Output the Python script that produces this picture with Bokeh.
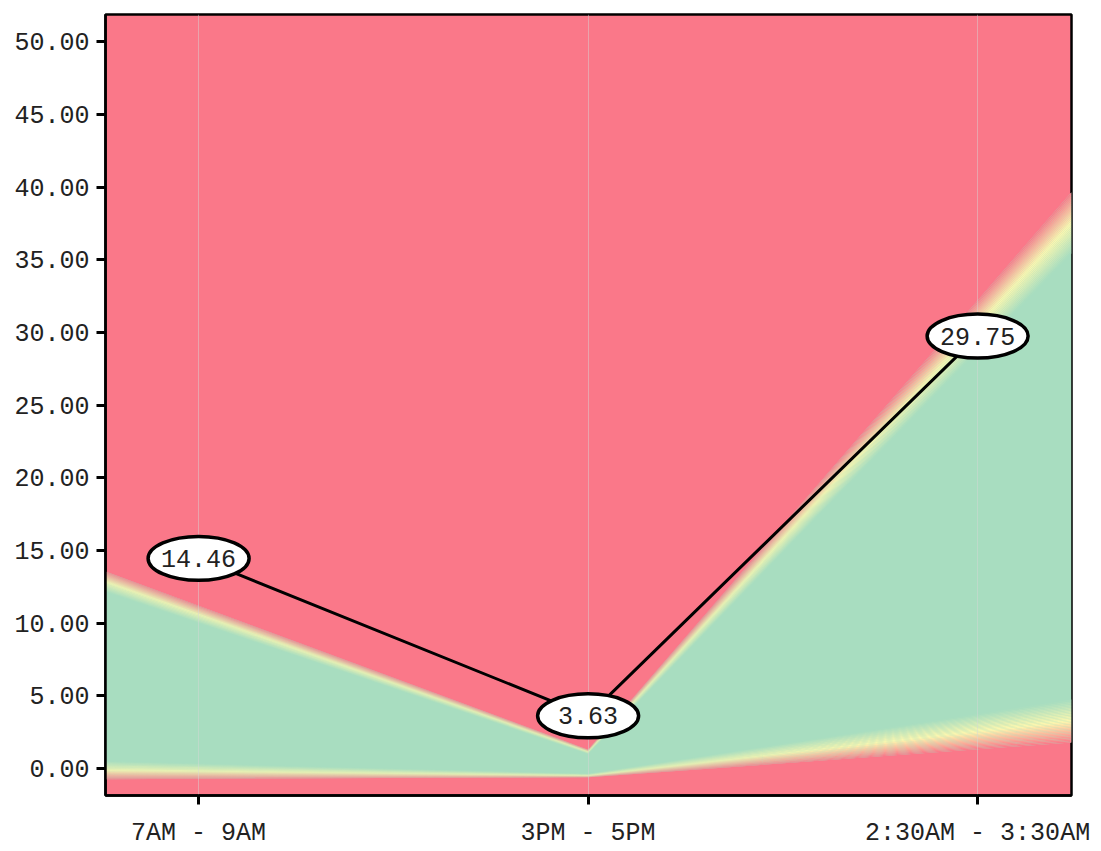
import numpy as np
from bokeh.plotting import figure
from bokeh.models import Range1d, FixedTicker, NumeralTickFormatter, ColumnDataSource
from bokeh.core.properties import value
from bokeh.embed import file_html
from bokeh.resources import INLINE

# ---------------- data ----------------
categories = ["7AM - 9AM", "3PM - 5PM", "2:30AM - 3:30AM"]
values = [14.46, 3.63, 29.75]
value_labels = ["14.46", "3.63", "29.75"]
upper_bound = [11.2, 1.3, 32.2]
upper_fade = [1.2, 0.3, 3.45]
lower_bound = [-0.7, -0.6, 1.33]
lower_fade = [1.05, 0.25, 2.43]
y_ticks = [0, 5, 10, 15, 20, 25, 30, 35, 40, 45, 50]

# ---------------- style ----------------
RED = (250, 120, 137)
YELLOW = (252, 247, 175)
GREEN = (168, 221, 192)
FONT = "Liberation Mono"
X_MIN, X_MAX = -0.239, 2.241
Y_MIN, Y_MAX = -1.85, 51.87

idx = np.arange(len(categories), dtype=float)


def extend(vals):
    v = np.asarray(vals, dtype=float)
    left = v[0] + (v[1] - v[0]) * (X_MIN - idx[0]) / (idx[1] - idx[0])
    right = v[-1] + (v[-1] - v[-2]) * (X_MAX - idx[-1]) / (idx[-1] - idx[-2])
    return np.concatenate([[left], v, [right]])


xe = np.concatenate([[X_MIN], idx, [X_MAX]])
U, UF = extend(upper_bound), extend(upper_fade)
L, LF = extend(lower_bound), extend(lower_fade)


def mix(a, b, t):
    return "#%02x%02x%02x" % tuple(int(round(a[i] + (b[i] - a[i]) * t)) for i in range(3))


def grad(t):
    if t < 0.5:
        return mix(RED, YELLOW, t / 0.5)
    return mix(YELLOW, GREEN, (t - 0.5) / 0.5)


p = figure(width=1100, height=850, output_backend="svg", toolbar_location=None,
           x_range=Range1d(X_MIN, X_MAX), y_range=Range1d(Y_MIN, Y_MAX),
           min_border_left=105, min_border_right=29, min_border_top=14, min_border_bottom=53)
p.background_fill_color = mix(RED, RED, 0)
p.border_fill_color = "white"
p.outline_line_color = "black"
p.outline_line_width = 2.5

# green band
p.varea(x=xe, y1=L, y2=U, fill_color=mix(GREEN, GREEN, 0), level="image")

N = 28
for k in range(N):
    t = (k + 0.5) / N
    c = grad(t)
    p.varea(x=xe, y1=U - UF * k / N, y2=U - UF * (k + 1) / N,
            fill_color=c, level="image")
    p.varea(x=xe, y1=L + LF * k / N, y2=L + LF * (k + 1) / N,
            fill_color=c, level="image")

# line and labels
src = ColumnDataSource(dict(x=idx, y=values, label=value_labels))
p.line("x", "y", source=src, line_color="black", line_width=3)
p.ellipse(x="x", y="y", width=101, height=44, width_units="screen", height_units="screen",
          source=src, fill_color="white", line_color="black", line_width=3.5)
p.text(x="x", y="y", text="label", source=src, text_align="center", text_baseline="middle",
       text_font=value(FONT), text_font_size="25px", text_color="#222222")

# axes
p.xaxis.ticker = FixedTicker(ticks=list(idx))
p.xaxis.major_label_overrides = {float(i): c for i, c in zip(idx, categories)}
p.xaxis.major_label_overrides.update({int(i): c for i, c in zip(idx, categories)})
p.yaxis.ticker = FixedTicker(ticks=y_ticks)
p.yaxis.formatter = NumeralTickFormatter(format="0.00")
for ax in (p.xaxis, p.yaxis):
    ax.axis_line_color = "black"
    ax.axis_line_width = 2.5
    ax.major_tick_line_color = "black"
    ax.major_tick_line_width = 3
    ax.major_tick_out = 9
    ax.major_tick_in = 0
    ax.minor_tick_line_color = None
    ax.major_label_text_font = FONT
    ax.major_label_text_font_size = "25px"
    ax.major_label_text_color = "#222222"
p.xaxis.major_label_standoff = 14
p.yaxis.major_label_standoff = 7

p.ygrid.grid_line_color = None
p.xgrid.grid_line_color = "#d8d8d8"
p.xgrid.grid_line_alpha = 0.45
p.xgrid.grid_line_width = 1

open("out.html", "w").write(file_html(p, INLINE))
